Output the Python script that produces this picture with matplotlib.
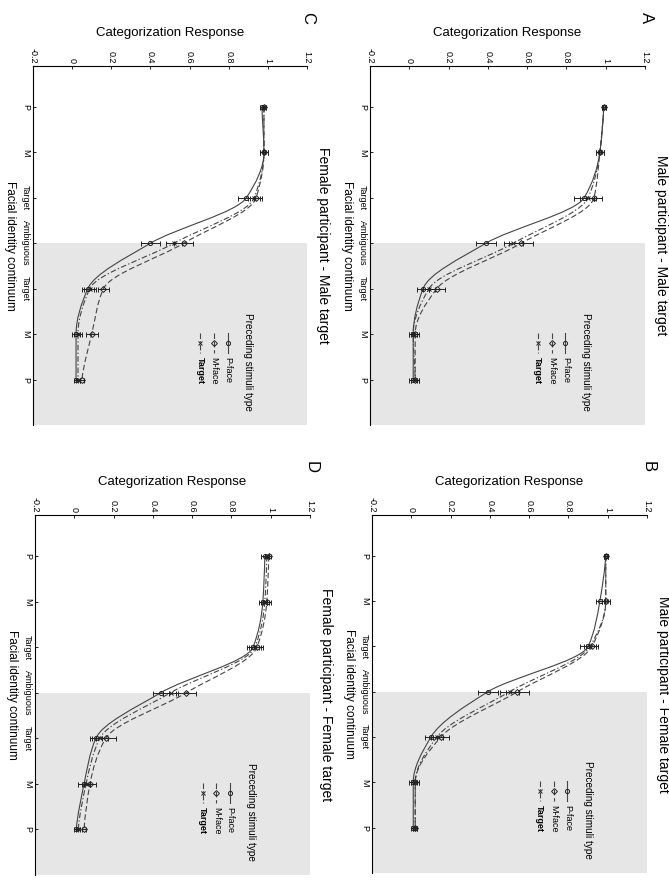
import numpy as np
import matplotlib
matplotlib.use("Agg")
import matplotlib.pyplot as plt
from matplotlib.path import Path
from matplotlib.patches import PathPatch

plt.rcParams['font.family'] = ['Liberation Sans', 'DejaVu Sans']

#%% dados
positions = [1, 2, 3, 4, 5, 6, 7]
continuum_labels = ['P', 'M', 'Target', 'Ambiguous', 'Target', 'M', 'P']
response_ticks = [-0.2, 0, 0.2, 0.4, 0.6, 0.8, 1, 1.2]
response_labels = ['-0.2', '0', '0.2', '0.4', '0.6', '0.8', '1', '1.2']
series_names = ['P-face', 'M-face', 'Target']

# A - Male participant / Male target
a_pface = [0.99, 0.97, 0.89, 0.39, 0.07, 0.02, 0.02]
a_mface = [0.99, 0.97, 0.94, 0.57, 0.14, 0.03, 0.03]
a_target = [0.99, 0.97, 0.91, 0.53, 0.10, 0.02, 0.03]
a_pface_err = [0.01, 0.02, 0.05, 0.05, 0.03, 0.02, 0.02]
a_mface_err = [0.01, 0.02, 0.04, 0.06, 0.04, 0.02, 0.02]
a_target_err = [0.01, 0.02, 0.04, 0.05, 0.03, 0.02, 0.02]

# B - Male participant / Female target
b_pface = [0.99, 0.96, 0.90, 0.39, 0.10, 0.01, 0.01]
b_mface = [0.99, 0.99, 0.92, 0.54, 0.15, 0.02, 0.02]
b_target = [0.99, 0.99, 0.91, 0.50, 0.13, 0.02, 0.02]
b_pface_err = [0.01, 0.02, 0.04, 0.05, 0.03, 0.02, 0.01]
b_mface_err = [0.01, 0.02, 0.03, 0.06, 0.04, 0.02, 0.01]
b_target_err = [0.01, 0.02, 0.03, 0.05, 0.03, 0.02, 0.01]

# C - Female participant / Male target
c_pface = [0.97, 0.98, 0.89, 0.40, 0.08, 0.02, 0.02]
c_mface = [0.98, 0.98, 0.94, 0.57, 0.16, 0.10, 0.05]
c_target = [0.98, 0.98, 0.93, 0.52, 0.09, 0.03, 0.03]
c_pface_err = [0.01, 0.02, 0.04, 0.05, 0.03, 0.02, 0.01]
c_mface_err = [0.01, 0.02, 0.03, 0.05, 0.03, 0.03, 0.01]
c_target_err = [0.01, 0.02, 0.03, 0.04, 0.03, 0.02, 0.01]

# D - Female participant / Female target
d_pface = [0.97, 0.96, 0.91, 0.44, 0.11, 0.05, 0.01]
d_mface = [0.99, 0.98, 0.93, 0.57, 0.16, 0.08, 0.05]
d_target = [0.98, 0.97, 0.92, 0.49, 0.13, 0.06, 0.02]
d_pface_err = [0.02, 0.02, 0.03, 0.04, 0.03, 0.03, 0.01]
d_mface_err = [0.01, 0.02, 0.03, 0.05, 0.05, 0.03, 0.01]
d_target_err = [0.01, 0.02, 0.03, 0.04, 0.04, 0.02, 0.01]

#%% estilos
styles = [dict(ls='-', dashes=None, marker='o'),
          dict(ls='--', dashes=(5, 2.5), marker='D'),
          dict(ls='-.', dashes=(5, 2, 1.2, 2), marker='x')]
line_color = '#444444'
shade_color = '#e6e6e6'


def smoothPath(xs, ys):
    # curva suave monotona (tangentes tipo pchip) passando pelos pontos,
    # desenhada como bezier pelo proprio matplotlib
    x = np.asarray(xs, float)
    y = np.asarray(ys, float)
    h = np.diff(y)
    d = np.diff(x) / h
    m = np.zeros_like(x)
    for i in range(1, len(x) - 1):
        if d[i - 1] * d[i] > 0:
            w1 = 2 * h[i] + h[i - 1]
            w2 = h[i] + 2 * h[i - 1]
            m[i] = (w1 + w2) / (w1 / d[i - 1] + w2 / d[i])
    m[0] = d[0] * 0.5
    m[-1] = d[-1] * 0.5
    verts = [(x[0], y[0])]
    codes = [Path.MOVETO]
    for i in range(len(x) - 1):
        verts += [(x[i] + m[i] * h[i] / 3, y[i] + h[i] / 3),
                  (x[i + 1] - m[i + 1] * h[i] / 3, y[i + 1] - h[i] / 3),
                  (x[i + 1], y[i + 1])]
        codes += [Path.CURVE4] * 3
    return Path(verts, codes)


def px_rect(L, T, R, B):
    return [L / 669, 1 - B / 883, (R - L) / 669, (B - T) / 883]


def drawPanel(fig, rect, letter, title, values, errors):
    ax = fig.add_axes(px_rect(*rect))
    ax.set_xlim(-0.2, 1.2)
    ax.set_ylim(8.0, 0.1)
    ax.axhspan(positions[3], 8.0, color=shade_color, zorder=0, lw=0)
    for v, e, st in zip(values, errors, styles):
        patch = PathPatch(smoothPath(v, positions), fill=False, color=line_color,
                          lw=0.8, ls=st['ls'], zorder=2)
        if st['dashes'] is not None:
            patch.set_linestyle((0, st['dashes']))
        ax.add_patch(patch)
        ax.errorbar(v, positions, xerr=e, fmt=st['marker'], ms=3, mfc='none',
                    mec='#222222', mew=0.7, ecolor='#222222', elinewidth=0.7,
                    capsize=1.8, capthick=0.7, zorder=3)
    for s in ['right', 'bottom']:
        ax.spines[s].set_visible(False)
    for s in ['top', 'left']:
        ax.spines[s].set_linewidth(0.8)
    ax.xaxis.tick_top()
    ax.set_xticks(response_ticks, response_labels, rotation=-90, fontsize=6.5)
    ax.set_yticks(positions, continuum_labels, rotation=-90, va='center', fontsize=6.5)
    ax.tick_params(direction='in', length=2, width=0.6, pad=2)
    ax.text(0.5, 1.092, 'Categorization Response', transform=ax.transAxes,
            ha='center', va='center', fontsize=9.5)
    ax.text(-0.084, 0.5, 'Facial identity continuum', transform=ax.transAxes,
            ha='center', va='center', rotation=-90, fontsize=8.5)
    ax.text(1.058, 0.5, title, transform=ax.transAxes,
            ha='center', va='center', rotation=-90, fontsize=10)
    ax.text(1.004, 1.134, letter, transform=ax.transAxes,
            ha='center', va='center', rotation=-90, fontsize=12)
    # legenda desenhada na mao (rotacionada)
    ax.text(0.785, 0.312, 'Preceding stimuli type', transform=ax.transAxes,
            ha='center', va='top', rotation=-90, fontsize=7.2)
    for k, (name, st) in enumerate(zip(series_names, styles)):
        xk = 0.71 - 0.05 * k
        ln, = ax.plot([xk, xk], [0.256, 0.201], transform=ax.transAxes,
                      color=line_color, lw=0.8, ls=st['ls'])
        if st['dashes'] is not None:
            ln.set_dashes(st['dashes'])
        ax.plot([xk], [0.2285], transform=ax.transAxes, marker=st['marker'],
                ms=3, mfc='none', mec='#222222', mew=0.7, ls='none')
        ax.text(xk, 0.189, name, transform=ax.transAxes, ha='center', va='top',
                rotation=-90, fontsize=6.5,
                fontweight='bold' if name == 'Target' else 'normal')
    return ax


fig = plt.figure(figsize=(6.69, 8.83), dpi=100)
drawPanel(fig, (370, 66, 645, 425), 'A', 'Male participant - Male target',
          [a_pface, a_mface, a_target], [a_pface_err, a_mface_err, a_target_err])
drawPanel(fig, (372, 515, 647, 873), 'B', 'Male participant - Female target',
          [b_pface, b_mface, b_target], [b_pface_err, b_mface_err, b_target_err])
drawPanel(fig, (33, 66, 307, 425), 'C', 'Female participant - Male target',
          [c_pface, c_mface, c_target], [c_pface_err, c_mface_err, c_target_err])
drawPanel(fig, (35, 515, 310, 875), 'D', 'Female participant - Female target',
          [d_pface, d_mface, d_target], [d_pface_err, d_mface_err, d_target_err])
fig.savefig('out.png', dpi=100)
